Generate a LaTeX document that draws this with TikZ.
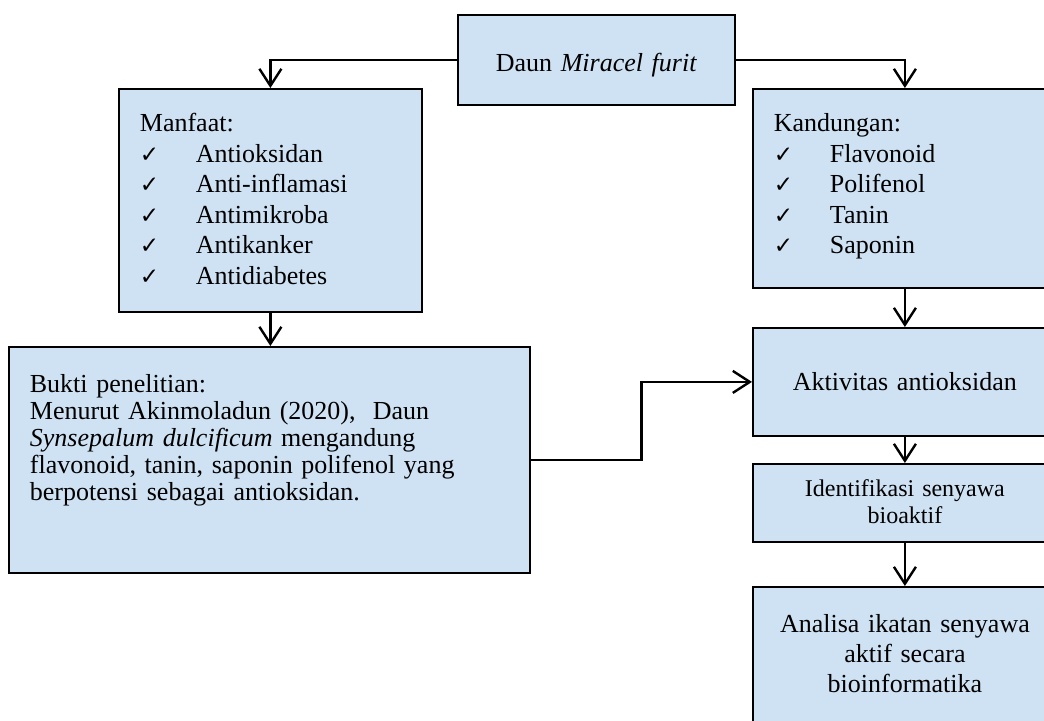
\documentclass[tikz,border=0pt]{standalone}
\usepackage{fontspec}
\setmainfont{Liberation Serif}
\newfontfamily\tickfont{DejaVu Sans}
\usetikzlibrary{arrows.meta,calc}
\definecolor{boxblue}{RGB}{207,226,243}
\newcommand{\chkitem}[1]{\makebox[28pt][l]{{\tickfont\fontsize{11.5}{11.5}\selectfont ✓}}#1}
\begin{document}
\begin{tikzpicture}[x=0.5pt,y=-0.5pt,
            every node/.style={draw,line width=0.9pt,fill=boxblue,anchor=north west,
                inner xsep=10.5pt,inner ysep=0pt},
            arr/.style={-{Straight Barb[length=8.5pt,width=11pt]},line width=1.2pt}
            ]
            \useasboundingbox (0,0) rectangle (1044,720);
            \clip (0,0) rectangle (1044,720);
            \node[text width=117.5pt,text height=28.5pt,text depth=16.5pt,align=center,
                font=\fontsize{13}{15}\selectfont] (daun) at (457,14) {Daun \textit{Miracel furit}};
            \node[text width=130.5pt,text height=21.5pt,text depth=90pt,align=left,
                font=\fontsize{13}{15.25}\selectfont] (manfaat) at (118,88)
                {Manfaat:\\ \chkitem{Antioksidan}\\ \chkitem{Anti-inflamasi}\\
                 \chkitem{Antimikroba}\\ \chkitem{Antikanker}\\ \chkitem{Antidiabetes}};
            \node[text width=131pt,text height=21.5pt,text depth=78pt,align=left,
                font=\fontsize{13}{15.25}\selectfont] (kandungan) at (752,88)
                {Kandungan:\\ \chkitem{Flavonoid}\\ \chkitem{Polifenol}\\
                 \chkitem{Tanin}\\ \chkitem{Saponin}};
            \node[text width=239.5pt,text height=23pt,text depth=90pt,align=left,
                font=\fontsize{13}{13.5}\selectfont] (bukti) at (8,346)
                {Bukti penelitian:\\ Menurut Akinmoladun (2020),\ \ Daun\\
                 \textit{Synsepalum dulcificum} mengandung\\
                 flavonoid, tanin, saponin polifenol yang\\
                 berpotensi sebagai antioksidan.};
            \node[text width=131pt,text height=31.5pt,text depth=22.5pt,align=center,
                font=\fontsize{13}{15}\selectfont] (aktivitas) at (752,327) {Aktivitas antioksidan};
            \node[text width=131pt,text height=16.5pt,text depth=22.5pt,align=center,
                font=\fontsize{12}{13.5}\selectfont] (identifikasi) at (752,463)
                {Identifikasi senyawa\\ bioaktif};
            \node[text width=131pt,text height=23pt,text depth=49pt,align=center,
                font=\fontsize{13}{15}\selectfont] (analisa) at (752,586)
                {Analisa ikatan senyawa\\ aktif secara\\ bioinformatika};
            \draw[arr] (daun.west) -| (manfaat.north);
            \draw[arr] (daun.east) -| (kandungan.north);
            \draw[arr] (manfaat.south) -- (bukti.north -| manfaat.south);
            \draw[arr] (kandungan.south) -- (aktivitas.north);
            \draw[arr] (aktivitas.south) -- (identifikasi.north);
            \draw[arr] (identifikasi.south) -- (analisa.north);
            \draw[arr] (bukti.east) -| ($(bukti.east)!.5!(aktivitas.west)$) |- (aktivitas.west);
        \end{tikzpicture}
\end{document}
